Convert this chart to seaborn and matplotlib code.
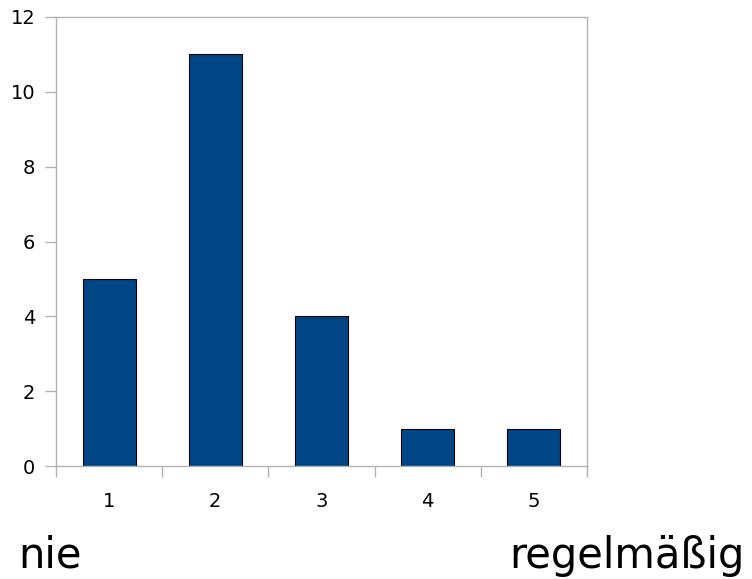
import numpy as np
import pandas as pd
import seaborn as sns
import matplotlib.pyplot as plt
from matplotlib.ticker import FixedLocator

categories = ["1", "2", "3", "4", "5"]
counts = [5, 11, 4, 1, 1]
scale_low = "nie"
scale_high = "regelmäßig"

df = pd.DataFrame({"rating": categories, "count": counts})

sns.set_style("white")
plt.rcParams["font.family"] = ["DejaVu Sans"]
plt.rcParams["text.color"] = "black"
plt.rcParams["xtick.labelcolor"] = "black"
plt.rcParams["ytick.labelcolor"] = "black"

fig = plt.figure(figsize=(7.52, 5.79), dpi=100)
ax = fig.add_axes([56 / 752, 113 / 579, 531 / 752, 449 / 579])

sns.barplot(data=df, x="rating", y="count", color="#004586", width=0.5,
            edgecolor="black", linewidth=0.8, saturation=1, ax=ax)

grey = "#b3b3b3"
ax.set_xlim(-0.5, len(categories) - 0.5)
ax.set_ylim(0, 12)
ax.set_yticks(np.arange(0, 13, 2))
ax.xaxis.set_minor_locator(FixedLocator(np.arange(-0.5, len(categories), 1.0)))
ax.set_xlabel("")
ax.set_ylabel("")

for side in ax.spines.values():
    side.set_color(grey)
    side.set_linewidth(1.0)

ax.tick_params(axis="y", which="major", length=8, width=1, color=grey,
               labelsize=14, pad=7, left=True, labelcolor="black")
ax.tick_params(axis="x", which="major", length=0, labelsize=14, pad=19,
               labelcolor="black")
ax.tick_params(axis="x", which="minor", length=8, width=1, color=grey,
               bottom=True)

fig.text(18 / 752, 11 / 579, scale_low, fontsize=30, ha="left", va="baseline",
         color="black")
fig.text(745 / 752, 11 / 579, scale_high, fontsize=30, ha="right",
         va="baseline", color="black")

fig.savefig("out.png", dpi=100)
